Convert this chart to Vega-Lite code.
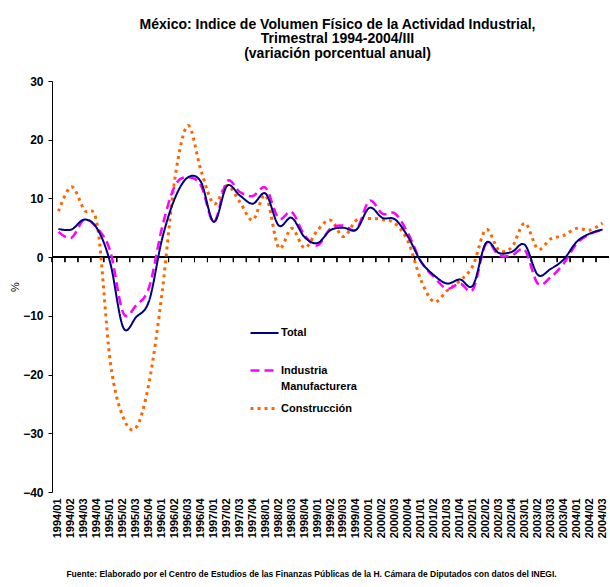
{
  "$schema": "https://vega.github.io/schema/vega-lite/v6.json",
  "width": 557,
  "height": 411,
  "autosize": {"type": "none"},
  "padding": {"left": 52, "top": 81, "right": 1, "bottom": 95},
  "background": "white",
  "config": {
    "font": "Liberation Sans",
    "view": {"stroke": null},
    "style": {"guide-label": {"lineHeight": 16}},
    "legend": {
      "orient": "none",
      "legendX": 197,
      "legendY": 237,
      "title": null,
      "padding": 0,
      "symbolType": "stroke",
      "symbolSize": 784,
      "symbolStrokeWidth": 2.5,
      "labelFont": "Liberation Sans",
      "labelFontSize": 11,
      "labelFontWeight": "bold",
      "labelColor": "black",
      "labelOffset": 1,
      "labelLimit": 200,
      "rowPadding": 1
    }
  },
  "title": {
    "text": ["México: Indice de Volumen Físico de la Actividad Industrial,", "Trimestral 1994-2004/III", "(variación porcentual anual)"],
    "font": "Liberation Sans",
    "fontSize": 14,
    "fontWeight": "bold",
    "color": "black",
    "lineHeight": 14.5,
    "anchor": "middle",
    "dx": 7,
    "offset": 14.5
  },
  "data": {
    "values": [
      {"q": "1994/01", "serie": "Construcción", "v": 7.8},
      {"q": "1994/02", "serie": "Construcción", "v": 12.0},
      {"q": "1994/03", "serie": "Construcción", "v": 8.0},
      {"q": "1994/04", "serie": "Construcción", "v": 5.4},
      {"q": "1995/01", "serie": "Construcción", "v": -17.8},
      {"q": "1995/02", "serie": "Construcción", "v": -27.3},
      {"q": "1995/03", "serie": "Construcción", "v": -29.0},
      {"q": "1995/04", "serie": "Construcción", "v": -21.3},
      {"q": "1996/01", "serie": "Construcción", "v": -6.0},
      {"q": "1996/02", "serie": "Construcción", "v": 13.6},
      {"q": "1996/03", "serie": "Construcción", "v": 22.4},
      {"q": "1996/04", "serie": "Construcción", "v": 14.8},
      {"q": "1997/01", "serie": "Construcción", "v": 9.1},
      {"q": "1997/02", "serie": "Construcción", "v": 12.2},
      {"q": "1997/03", "serie": "Construcción", "v": 9.4},
      {"q": "1997/04", "serie": "Construcción", "v": 6.3},
      {"q": "1998/01", "serie": "Construcción", "v": 10.5},
      {"q": "1998/02", "serie": "Construcción", "v": 1.6},
      {"q": "1998/03", "serie": "Construcción", "v": 4.9},
      {"q": "1998/04", "serie": "Construcción", "v": 1.6},
      {"q": "1999/01", "serie": "Construcción", "v": 4.6},
      {"q": "1999/02", "serie": "Construcción", "v": 6.3},
      {"q": "1999/03", "serie": "Construcción", "v": 3.5},
      {"q": "1999/04", "serie": "Construcción", "v": 6.3},
      {"q": "2000/01", "serie": "Construcción", "v": 6.6},
      {"q": "2000/02", "serie": "Construcción", "v": 6.4},
      {"q": "2000/03", "serie": "Construcción", "v": 5.7},
      {"q": "2000/04", "serie": "Construcción", "v": 2.6},
      {"q": "2001/01", "serie": "Construcción", "v": -4.0},
      {"q": "2001/02", "serie": "Construcción", "v": -7.6},
      {"q": "2001/03", "serie": "Construcción", "v": -5.7},
      {"q": "2001/04", "serie": "Construcción", "v": -4.0},
      {"q": "2002/01", "serie": "Construcción", "v": -1.4},
      {"q": "2002/02", "serie": "Construcción", "v": 4.7},
      {"q": "2002/03", "serie": "Construcción", "v": 1.2},
      {"q": "2002/04", "serie": "Construcción", "v": 1.7},
      {"q": "2003/01", "serie": "Construcción", "v": 5.8},
      {"q": "2003/02", "serie": "Construcción", "v": 1.4},
      {"q": "2003/03", "serie": "Construcción", "v": 3.1},
      {"q": "2003/04", "serie": "Construcción", "v": 3.7},
      {"q": "2004/01", "serie": "Construcción", "v": 4.9},
      {"q": "2004/02", "serie": "Construcción", "v": 4.6},
      {"q": "2004/03", "serie": "Construcción", "v": 5.8},

      {"q": "1994/01", "serie": "Industria Manufacturera", "v": 4.3},
      {"q": "1994/02", "serie": "Industria Manufacturera", "v": 3.3},
      {"q": "1994/03", "serie": "Industria Manufacturera", "v": 6.4},
      {"q": "1994/04", "serie": "Industria Manufacturera", "v": 4.9},
      {"q": "1995/01", "serie": "Industria Manufacturera", "v": 1.0},
      {"q": "1995/02", "serie": "Industria Manufacturera", "v": -9.5},
      {"q": "1995/03", "serie": "Industria Manufacturera", "v": -8.2},
      {"q": "1995/04", "serie": "Industria Manufacturera", "v": -5.1},
      {"q": "1996/01", "serie": "Industria Manufacturera", "v": 5.1},
      {"q": "1996/02", "serie": "Industria Manufacturera", "v": 12.2},
      {"q": "1996/03", "serie": "Industria Manufacturera", "v": 13.6},
      {"q": "1996/04", "serie": "Industria Manufacturera", "v": 12.2},
      {"q": "1997/01", "serie": "Industria Manufacturera", "v": 6.0},
      {"q": "1997/02", "serie": "Industria Manufacturera", "v": 12.9},
      {"q": "1997/03", "serie": "Industria Manufacturera", "v": 11.1},
      {"q": "1997/04", "serie": "Industria Manufacturera", "v": 10.4},
      {"q": "1998/01", "serie": "Industria Manufacturera", "v": 11.8},
      {"q": "1998/02", "serie": "Industria Manufacturera", "v": 6.6},
      {"q": "1998/03", "serie": "Industria Manufacturera", "v": 7.7},
      {"q": "1998/04", "serie": "Industria Manufacturera", "v": 3.7},
      {"q": "1999/01", "serie": "Industria Manufacturera", "v": 2.0},
      {"q": "1999/02", "serie": "Industria Manufacturera", "v": 4.9},
      {"q": "1999/03", "serie": "Industria Manufacturera", "v": 5.4},
      {"q": "1999/04", "serie": "Industria Manufacturera", "v": 4.7},
      {"q": "2000/01", "serie": "Industria Manufacturera", "v": 9.6},
      {"q": "2000/02", "serie": "Industria Manufacturera", "v": 7.4},
      {"q": "2000/03", "serie": "Industria Manufacturera", "v": 7.4},
      {"q": "2000/04", "serie": "Industria Manufacturera", "v": 4.0},
      {"q": "2001/01", "serie": "Industria Manufacturera", "v": -0.8},
      {"q": "2001/02", "serie": "Industria Manufacturera", "v": -3.4},
      {"q": "2001/03", "serie": "Industria Manufacturera", "v": -5.4},
      {"q": "2001/04", "serie": "Industria Manufacturera", "v": -4.5},
      {"q": "2002/01", "serie": "Industria Manufacturera", "v": -5.5},
      {"q": "2002/02", "serie": "Industria Manufacturera", "v": 2.3},
      {"q": "2002/03", "serie": "Industria Manufacturera", "v": 0.3},
      {"q": "2002/04", "serie": "Industria Manufacturera", "v": 0.3},
      {"q": "2003/01", "serie": "Industria Manufacturera", "v": 1.2},
      {"q": "2003/02", "serie": "Industria Manufacturera", "v": -4.5},
      {"q": "2003/03", "serie": "Industria Manufacturera", "v": -3.4},
      {"q": "2003/04", "serie": "Industria Manufacturera", "v": -1.1},
      {"q": "2004/01", "serie": "Industria Manufacturera", "v": 2.3},
      {"q": "2004/02", "serie": "Industria Manufacturera", "v": 3.9},
      {"q": "2004/03", "serie": "Industria Manufacturera", "v": 4.7},

      {"q": "1994/01", "serie": "Total", "v": 4.8},
      {"q": "1994/02", "serie": "Total", "v": 4.7},
      {"q": "1994/03", "serie": "Total", "v": 6.4},
      {"q": "1994/04", "serie": "Total", "v": 4.8},
      {"q": "1995/01", "serie": "Total", "v": -1.0},
      {"q": "1995/02", "serie": "Total", "v": -12.0},
      {"q": "1995/03", "serie": "Total", "v": -10.2},
      {"q": "1995/04", "serie": "Total", "v": -7.4},
      {"q": "1996/01", "serie": "Total", "v": 3.1},
      {"q": "1996/02", "serie": "Total", "v": 10.1},
      {"q": "1996/03", "serie": "Total", "v": 13.6},
      {"q": "1996/04", "serie": "Total", "v": 12.8},
      {"q": "1997/01", "serie": "Total", "v": 6.0},
      {"q": "1997/02", "serie": "Total", "v": 12.1},
      {"q": "1997/03", "serie": "Total", "v": 10.5},
      {"q": "1997/04", "serie": "Total", "v": 9.1},
      {"q": "1998/01", "serie": "Total", "v": 10.8},
      {"q": "1998/02", "serie": "Total", "v": 5.4},
      {"q": "1998/03", "serie": "Total", "v": 6.7},
      {"q": "1998/04", "serie": "Total", "v": 3.4},
      {"q": "1999/01", "serie": "Total", "v": 2.4},
      {"q": "1999/02", "serie": "Total", "v": 4.6},
      {"q": "1999/03", "serie": "Total", "v": 5.0},
      {"q": "1999/04", "serie": "Total", "v": 4.7},
      {"q": "2000/01", "serie": "Total", "v": 8.4},
      {"q": "2000/02", "serie": "Total", "v": 6.7},
      {"q": "2000/03", "serie": "Total", "v": 6.4},
      {"q": "2000/04", "serie": "Total", "v": 3.4},
      {"q": "2001/01", "serie": "Total", "v": -0.8},
      {"q": "2001/02", "serie": "Total", "v": -3.1},
      {"q": "2001/03", "serie": "Total", "v": -4.5},
      {"q": "2001/04", "serie": "Total", "v": -3.8},
      {"q": "2002/01", "serie": "Total", "v": -4.8},
      {"q": "2002/02", "serie": "Total", "v": 2.4},
      {"q": "2002/03", "serie": "Total", "v": 0.7},
      {"q": "2002/04", "serie": "Total", "v": 0.9},
      {"q": "2003/01", "serie": "Total", "v": 2.1},
      {"q": "2003/02", "serie": "Total", "v": -3.0},
      {"q": "2003/03", "serie": "Total", "v": -2.0},
      {"q": "2003/04", "serie": "Total", "v": -0.4},
      {"q": "2004/01", "serie": "Total", "v": 2.6},
      {"q": "2004/02", "serie": "Total", "v": 4.0},
      {"q": "2004/03", "serie": "Total", "v": 4.7}
    ]
  },
  "layer": [
    {
      "mark": {"type": "rule", "color": "black", "strokeWidth": 1},
      "encoding": {"y": {"datum": 0, "type": "quantitative"}}
    },
    {
      "mark": {"type": "rule", "color": "black", "strokeWidth": 1},
      "encoding": {
        "x": {"field": "q", "type": "ordinal", "bandPosition": 0},
        "y": {"datum": 0, "type": "quantitative"},
        "y2": {"datum": -0.85}
      }
    },
    {
      "mark": {"type": "line", "interpolate": "cardinal"},
      "encoding": {
        "x": {
          "field": "q",
          "type": "ordinal",
          "sort": null,
          "scale": {"type": "band", "paddingInner": 0, "paddingOuter": 0},
          "axis": {
            "domain": false,
            "ticks": false,
            "labelAngle": -90,
            "labelAlign": "right",
            "labelBaseline": "middle",
            "labelFont": "Liberation Sans",
            "labelFontSize": 11,
            "labelFontWeight": "bold",
            "labelColor": "black",
            "labelPadding": 6,
            "labelOverlap": false,
            "title": "Fuente: Elaborado por el Centro de Estudios de las Finanzas Públicas de la H. Cámara de Diputados con datos del INEGI.",
            "titleFont": "Liberation Sans",
            "titleFontSize": 8.5,
            "titleFontWeight": "bold",
            "titleColor": "black",
            "titleX": 259,
            "titleAlign": "center",
            "titlePadding": 32
          }
        },
        "y": {
          "field": "v",
          "type": "quantitative",
          "scale": {"domain": [-40, 30], "nice": false},
          "axis": {
            "values": [-40, -30, -20, -10, 0, 10, 20, 30],
            "grid": false,
            "domainColor": "black",
            "tickColor": "black",
            "tickSize": 4,
            "labelFont": "Liberation Sans",
            "labelFontSize": 12,
            "labelFontWeight": "bold",
            "labelColor": "black",
            "labelPadding": 5,
            "title": "%",
            "titleFont": "Liberation Sans",
            "titleFontSize": 11,
            "titleFontWeight": "normal",
            "titleColor": "black",
            "titlePadding": 2
          }
        },
        "color": {
          "field": "serie",
          "type": "nominal",
          "scale": {"domain": ["Total", "Industria Manufacturera", "Construcción"], "range": ["#000080", "#FF00FF", "#FF6600"]},
          "legend": {"labelExpr": "datum.label == 'Industria Manufacturera' ? ['Industria', 'Manufacturera'] : [datum.label, '']"}
        },
        "strokeDash": {
          "field": "serie",
          "type": "nominal",
          "scale": {"domain": ["Total", "Industria Manufacturera", "Construcción"], "range": [[1, 0], [9, 5], [3, 4]]},
          "legend": {"labelExpr": "datum.label == 'Industria Manufacturera' ? ['Industria', 'Manufacturera'] : [datum.label, '']"}
        },
        "strokeWidth": {
          "field": "serie",
          "type": "nominal",
          "scale": {"domain": ["Total", "Industria Manufacturera", "Construcción"], "range": [2, 3, 3]},
          "legend": null
        }
      }
    }
  ]
}
